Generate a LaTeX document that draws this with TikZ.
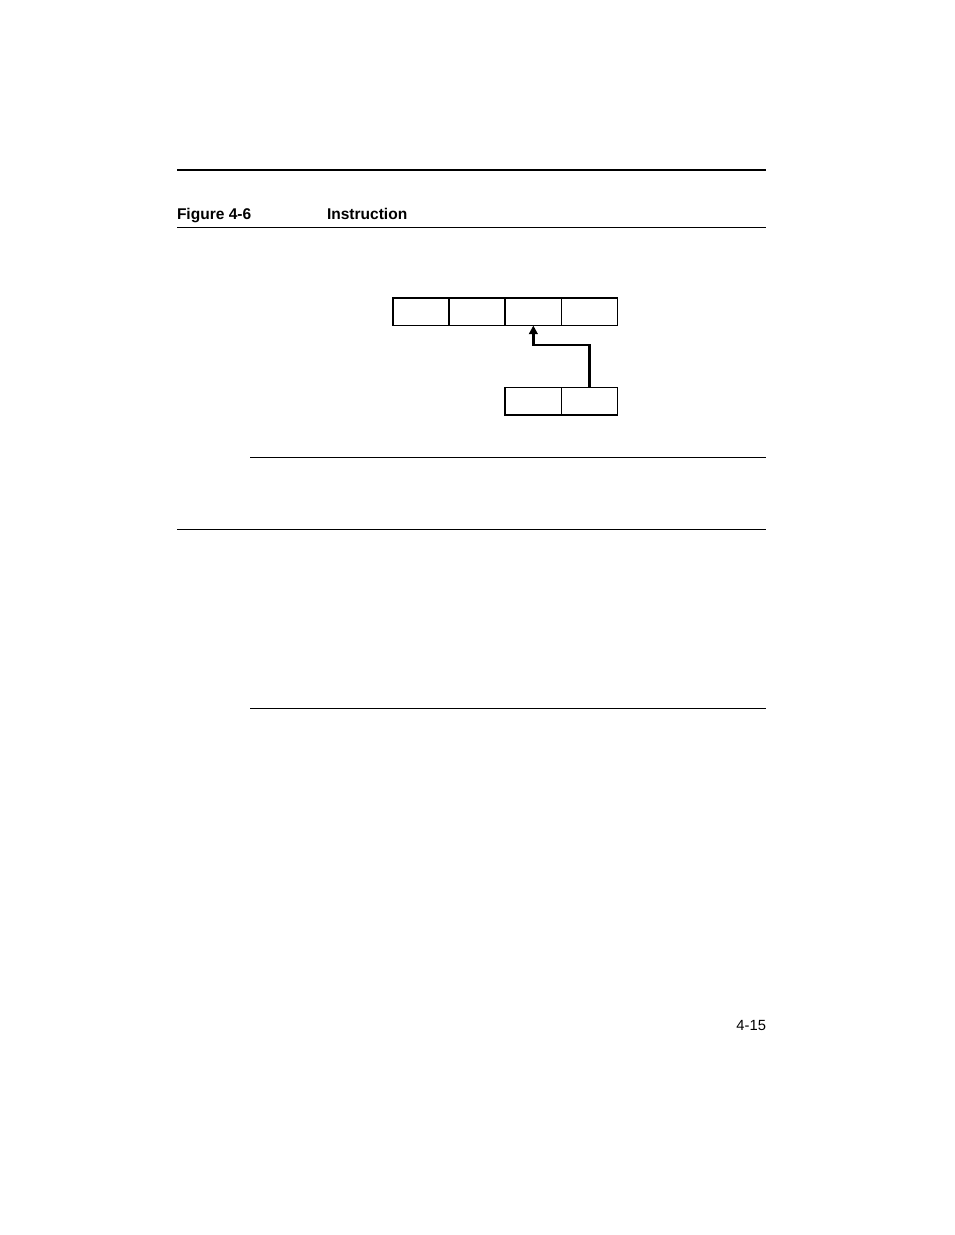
\documentclass[tikz,border=0pt]{standalone}
\usepackage{fontspec}
\setmainfont{Liberation Sans}
\usetikzlibrary{positioning,arrows.meta}

\begin{document}
\begin{tikzpicture}[x=0.6439pt, y=-0.6439pt]

  \tikzset{CellStyle/.style = {
  shape = rectangle,
  draw,
  line width = 1pt,
  inner sep = 0pt,
  outer sep = 0pt,
  minimum width = 36.2pt,
  minimum height = 17.8pt}}
  \tikzset{LabelStyle/.style = {
  inner sep = 0pt,
  outer sep = 0pt}}

  \useasboundingbox (0,0) rectangle (954,1235);

  % page rules
  \draw[line width=1.3pt] (177,170) -- (766,170);
  \draw[line width=0.7pt] (177,227.5) -- (766,227.5);
  \draw[line width=0.7pt] (250,457.3) -- (766,457.3);
  \draw[line width=0.7pt] (177,529.3) -- (766,529.3);
  \draw[line width=0.7pt] (250,708.3) -- (766,708.3);

  % caption
  \node[LabelStyle, anchor=base west, font=\bfseries] (fig) at (177,220) {Figure 4-6};
  \node[LabelStyle, anchor=base west, font=\bfseries] (title) at (327,220) {Instruction};

  % instruction cells
  \node[CellStyle] (T1) at (420.9,311.7) {};
  \node[CellStyle, right=0pt of T1] (T2) {};
  \node[CellStyle, right=0pt of T2] (T3) {};
  \node[CellStyle, right=0pt of T3] (T4) {};

  \node[CellStyle, below=39.9pt of T3] (B1) {};
  \node[CellStyle, right=0pt of B1] (B2) {};

  \draw[line width=1.5pt, -{Triangle[length=5.5pt, width=5.5pt]}]
    (B2.north) -- ++(0,-42.4) -| (T3.south);

  % page number
  \node[LabelStyle, anchor=base east, font=\fontsize{9.5}{11}\selectfont] (page) at (766,1030) {4-15};
\end{tikzpicture}
\end{document}
